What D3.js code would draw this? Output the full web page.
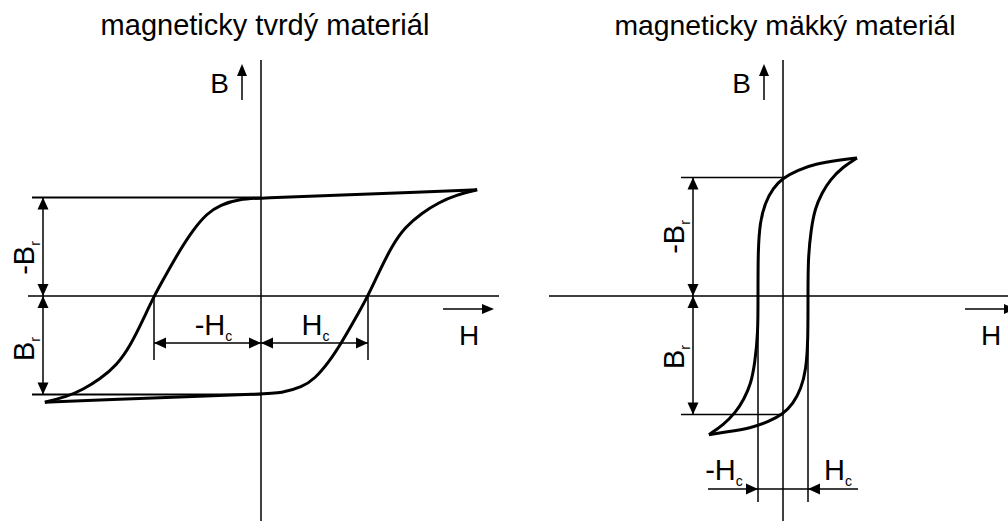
<!DOCTYPE html>
<html>
<head>
<meta charset="utf-8">
<script src="https://cdn.jsdelivr.net/npm/d3@7"></script>
<style>
  html, body { margin: 0; padding: 0; background: #fff; }
  svg { display: block; }
  text { font-family: "Liberation Sans", Arial, Helvetica, sans-serif; fill: #000; }
</style>
</head>
<body>
<svg id="chart" width="1008" height="521"></svg>
<script>
// Hysteresis loops, H in units of Hc and B in units of Br.
const panelTitles = ["magneticky tvrdý materiál", "magneticky mäkký materiál"];

// magnetically hard material: wide loop
const hardDescending = [
  [2.02, 1.078], [1.4, 1.052], [0.7, 1.024], [0, 0.995], [-0.196, 0.985],
  [-0.383, 0.926], [-0.505, 0.838], [-0.636, 0.67], [-0.757, 0.467], [-0.879, 0.234],
  [-1.0, 0], [-1.103, -0.244], [-1.224, -0.51], [-1.346, -0.70], [-1.505, -0.845],
  [-1.664, -0.95], [-1.813, -1.022], [-2.02, -1.078]
];
const hardAscending = [
  [-2.02, -1.078], [-1.4, -1.052], [-0.7, -1.024], [0, -0.995], [0.196, -0.985],
  [0.383, -0.926], [0.505, -0.838], [0.636, -0.67], [0.757, -0.467], [0.879, -0.234],
  [1.0, 0], [1.103, 0.244], [1.224, 0.51], [1.346, 0.70], [1.505, 0.845],
  [1.664, 0.95], [1.813, 1.022], [2.02, 1.078]
];

// magnetically soft material: narrow loop
const softDescending = [
  [2.96, 1.165], [2.28, 1.148], [1.28, 1.114], [0.6, 1.063], [0, 0.996],
  [-0.4, 0.911], [-0.72, 0.785], [-0.92, 0.624], [-1.0, 0.388], [-1.0, 0],
  [-1.0, -0.31], [-1.12, -0.56], [-1.28, -0.74], [-1.56, -0.87], [-1.88, -0.98],
  [-2.4, -1.09], [-2.96, -1.17]
];
const softAscending = [
  [-2.96, -1.17], [-2.28, -1.148], [-1.28, -1.114], [-0.6, -1.063], [0, -0.996],
  [0.4, -0.911], [0.72, -0.785], [0.92, -0.624], [1.0, -0.388], [1.0, 0],
  [1.0, 0.31], [1.12, 0.56], [1.28, 0.74], [1.56, 0.87], [1.88, 0.98],
  [2.4, 1.09], [2.96, 1.165]
];

const svg = d3.select("#chart");

function arrowHead(g, x, y, dir, len = 12, half = 5.5) {
  // dir: "up" | "down" | "left" | "right", tip at (x, y)
  let pts;
  if (dir === "up") pts = [[x, y], [x - half, y + len], [x + half, y + len]];
  if (dir === "down") pts = [[x, y], [x - half, y - len], [x + half, y - len]];
  if (dir === "left") pts = [[x, y], [x + len, y - half], [x + len, y + half]];
  if (dir === "right") pts = [[x, y], [x - len, y - half], [x - len, y + half]];
  g.append("path").attr("d", "M" + pts.join("L") + "Z").attr("fill", "#000");
}

function line(g, x1, y1, x2, y2, w = 1.5) {
  g.append("line").attr("x1", x1).attr("y1", y1).attr("x2", x2).attr("y2", y2)
    .attr("stroke", "#000").attr("stroke-width", w);
}

function subLabel(g, main, sub, x, y, anchor, rotate) {
  const t = g.append("text").attr("font-size", 29).attr("text-anchor", anchor);
  if (rotate) t.attr("transform", `translate(${x},${y}) rotate(-90)`);
  else t.attr("x", x).attr("y", y);
  t.append("tspan").text(main);
  t.append("tspan").attr("font-size", 14).attr("dy", 6).text(sub);
}

function drawPanel(cfg) {
  const g = svg.append("g");
  const x = d3.scaleLinear().domain([-1, 1]).range([cfg.ox - cfg.hc, cfg.ox + cfg.hc]);
  const y = d3.scaleLinear().domain([-1, 1]).range([cfg.oy + cfg.br, cfg.oy - cfg.br]);
  const ox = x(0), oy = y(0);

  // title
  g.append("text").attr("x", ox + cfg.titleDx).attr("y", 35).attr("font-size", cfg.titleSize)
    .attr("text-anchor", "middle").text(cfg.title);

  // axes
  line(g, ox, 60, ox, 521);
  line(g, cfg.axisLeft, oy, cfg.axisRight, oy);

  // B label with arrow
  g.append("text").attr("x", ox - 32).attr("y", 93).attr("font-size", 28)
    .attr("text-anchor", "end").text("B");
  line(g, ox - 19, 100, ox - 19, 70, 1.5);
  arrowHead(g, ox - 19, 64, "up", 12, 5);

  // H label with arrow
  line(g, ox + 182, oy + 13, ox + 225, oy + 13, 1.5);
  arrowHead(g, ox + 233, oy + 13, "right", 12, 5);
  g.append("text").attr("x", ox + 198).attr("y", oy + 49).attr("font-size", 28).text("H");

  // remanence extension lines and dimension
  const yTop = y(1), yBot = y(-1);
  line(g, cfg.brExtX, yTop, ox, yTop, cfg.extW);
  line(g, cfg.brExtX, yBot, ox, yBot, cfg.extW);
  line(g, cfg.brDimX, yTop, cfg.brDimX, yBot, 1.5);
  arrowHead(g, cfg.brDimX, yTop, "up");
  arrowHead(g, cfg.brDimX, oy, "down");
  arrowHead(g, cfg.brDimX, oy, "up");
  arrowHead(g, cfg.brDimX, yBot, "down");
  subLabel(g, "-B", "r", cfg.brLabelX, cfg.brLabelNegY, "middle", true);
  subLabel(g, "B", "r", cfg.brLabelX, cfg.brLabelPosY, "middle", true);

  // coercivity extension lines and dimension
  const xL = x(-1), xR = x(1);
  line(g, xL, oy, xL, cfg.hcExtBottom, 1.5);
  line(g, xR, oy, xR, cfg.hcExtBottom, 1.5);
  cfg.drawHc(g, xL, xR, ox);

  // loop branches
  const curve = d3.line().x(d => x(d[0])).y(d => y(d[1])).curve(d3.curveBasis);
  [cfg.desc, cfg.asc].forEach(branch => {
    g.append("path").attr("d", curve(branch)).attr("fill", "none")
      .attr("stroke", "#000").attr("stroke-width", 3).attr("stroke-linejoin", "round");
  });
}

drawPanel({
  title: panelTitles[0], titleSize: 29, titleDx: 4, ox: 261, oy: 296, hc: 107, br: 98.5,
  axisLeft: 28, axisRight: 499, brExtX: 32, brDimX: 43, extW: 2,
  brLabelX: 34, brLabelNegY: 258, brLabelPosY: 349, hcExtBottom: 360,
  desc: hardDescending, asc: hardAscending,
  drawHc(g, xL, xR, ox) {
    const yd = 343;
    line(g, xL, yd, xR, yd, 1.5);
    arrowHead(g, xL, yd, "left");
    arrowHead(g, ox, yd, "right");
    arrowHead(g, ox, yd, "left");
    arrowHead(g, xR, yd, "right");
    subLabel(g, "-H", "c", (xL + ox) / 2 + 6, 335, "middle", false);
    subLabel(g, "H", "c", (ox + xR) / 2 + 1, 335, "middle", false);
  }
});

drawPanel({
  title: panelTitles[1], titleSize: 28.3, titleDx: 2, ox: 783, oy: 296, hc: 25, br: 118.5,
  axisLeft: 549, axisRight: 1008, brExtX: 681, brDimX: 693, extW: 1.5,
  brLabelX: 684, brLabelNegY: 237, brLabelPosY: 357, hcExtBottom: 502,
  desc: softDescending, asc: softAscending,
  drawHc(g, xL, xR, ox) {
    const yd = 489;
    line(g, xL - 50, yd, xR + 50, yd, 1.5);
    arrowHead(g, xL, yd, "right");
    arrowHead(g, xR, yd, "left");
    subLabel(g, "-H", "c", xL - 34, 480, "middle", false);
    subLabel(g, "H", "c", xR + 30, 480, "middle", false);
  }
});
</script>
</body>
</html>
